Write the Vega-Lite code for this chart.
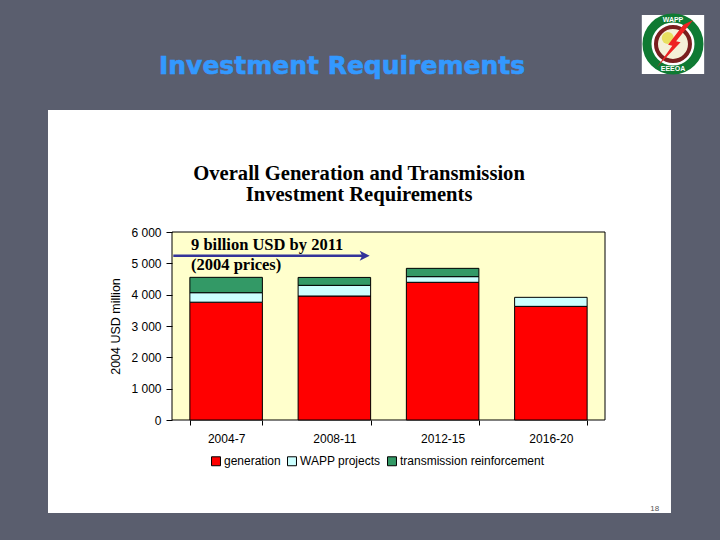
{
  "$schema": "https://vega.github.io/schema/vega-lite/v6.json",
  "description": "Slide with WAPP investment requirements per period, stacked bars.",
  "autosize": {"type": "none"},
  "width": 433,
  "height": 188,
  "padding": {"left": 172, "top": 232, "right": 115, "bottom": 120},
  "background": "#5a5e6e",
  "config": {"view": {"stroke": null}, "font": "Liberation Sans"},
  "data": {"values": [
    {"period": "2004-7", "series": "generation", "rank": 1, "value": 3760},
    {"period": "2004-7", "series": "WAPP projects", "rank": 2, "value": 303},
    {"period": "2004-7", "series": "transmission reinforcement", "rank": 3, "value": 490},
    {"period": "2008-11", "series": "generation", "rank": 1, "value": 3957},
    {"period": "2008-11", "series": "WAPP projects", "rank": 2, "value": 341},
    {"period": "2008-11", "series": "transmission reinforcement", "rank": 3, "value": 252},
    {"period": "2012-15", "series": "generation", "rank": 1, "value": 4395},
    {"period": "2012-15", "series": "WAPP projects", "rank": 2, "value": 180},
    {"period": "2012-15", "series": "transmission reinforcement", "rank": 3, "value": 265},
    {"period": "2016-20", "series": "generation", "rank": 1, "value": 3627},
    {"period": "2016-20", "series": "WAPP projects", "rank": 2, "value": 288}
  ]},
  "resolve": {"scale": {"x": "independent"}, "axis": {"x": "independent", "y": "independent"}},
  "layer": [
    {
      "data": {"values": [{"slide": 18}]},
      "encoding": {
        "x": {"datum": 0, "type": "quantitative", "scale": {"domain": [0, 1]}, "axis": null},
        "y": {"datum": 0, "type": "quantitative", "scale": {"domain": [0, 6000]}, "axis": null}
      },
      "layer": [
        {
          "mark": {"type": "rect", "fill": "#ffffff", "clip": false},
          "encoding": {
            "x": {"datum": -0.2864, "type": "quantitative", "axis": null}, "x2": {"datum": 1.1524},
            "y": {"datum": 9894, "type": "quantitative", "axis": null}, "y2": {"datum": -2968}
          }
        },
        {
          "mark": {"type": "rect", "fill": "#ffffcc", "stroke": "#000000", "strokeWidth": 1},
          "encoding": {
            "x": {"datum": 0, "type": "quantitative", "axis": null}, "x2": {"datum": 1},
            "y": {"datum": 0, "type": "quantitative", "axis": null}, "y2": {"datum": 6000}
          }
        },
        {
          "mark": {"type": "text", "text": "Investment Requirements", "align": "left", "font": "DejaVu Sans", "fontWeight": "bold", "fontSize": 25, "color": "#3399ff", "stroke": "#3399ff", "strokeWidth": 0.6, "baseline": "alphabetic"},
          "encoding": {"x": {"datum": -0.03, "type": "quantitative", "axis": null}, "y": {"datum": 11043, "type": "quantitative", "axis": null}}
        },
        {
          "mark": {"type": "text", "text": "Overall Generation and Transmission", "align": "center", "font": "Liberation Serif", "fontWeight": "bold", "fontSize": 20.6, "color": "#000000", "baseline": "alphabetic"},
          "encoding": {"x": {"datum": 0.432, "type": "quantitative", "axis": null}, "y": {"datum": 7660, "type": "quantitative", "axis": null}}
        },
        {
          "mark": {"type": "text", "text": "Investment Requirements", "align": "center", "font": "Liberation Serif", "fontWeight": "bold", "fontSize": 20.6, "color": "#000000", "baseline": "alphabetic"},
          "encoding": {"x": {"datum": 0.432, "type": "quantitative", "axis": null}, "y": {"datum": 6989, "type": "quantitative", "axis": null}}
        },
        {
          "mark": {"type": "text", "text": "9 billion USD by 2011", "align": "left", "font": "Liberation Serif", "fontWeight": "bold", "fontSize": 16.5, "color": "#000000", "baseline": "alphabetic"},
          "encoding": {"x": {"datum": 0.0439, "type": "quantitative", "axis": null}, "y": {"datum": 5426, "type": "quantitative", "axis": null}}
        },
        {
          "mark": {"type": "text", "text": "(2004 prices)", "align": "left", "font": "Liberation Serif", "fontWeight": "bold", "fontSize": 16.5, "color": "#000000", "baseline": "alphabetic"},
          "encoding": {"x": {"datum": 0.0439, "type": "quantitative", "axis": null}, "y": {"datum": 4787, "type": "quantitative", "axis": null}}
        },
        {
          "mark": {"type": "rule", "color": "#333399", "strokeWidth": 2.5},
          "encoding": {
            "x": {"datum": 0.003, "type": "quantitative", "axis": null}, "x2": {"datum": 0.445},
            "y": {"datum": 5245, "type": "quantitative", "axis": null}
          }
        },
        {
          "mark": {"type": "point", "shape": "M-1,-1 L1,0 L-1,1 L-0.5,0 Z", "filled": true, "color": "#333399", "size": 100, "opacity": 1},
          "encoding": {"x": {"datum": 0.445, "type": "quantitative", "axis": null}, "y": {"datum": 5245, "type": "quantitative", "axis": null}}
        },
        {
          "mark": {"type": "text", "text": "18", "align": "center", "fontSize": 8, "color": "#555555", "baseline": "alphabetic"},
          "encoding": {"x": {"datum": 1.115, "type": "quantitative", "axis": null}, "y": {"datum": -2904, "type": "quantitative", "axis": null}}
        },
        {
          "mark": {"type": "rect", "fill": "#ffffff", "clip": false},
          "encoding": {
            "x": {"datum": 1.085, "type": "quantitative", "axis": null}, "x2": {"datum": 1.229},
            "y": {"datum": 12926, "type": "quantitative", "axis": null}, "y2": {"datum": 11043}
          }
        },
        {
          "mark": {"type": "point", "shape": "circle", "size": 2704, "stroke": "#0f7a33", "strokeWidth": 9, "opacity": 1},
          "encoding": {"x": {"datum": 1.157, "type": "quantitative", "axis": null}, "y": {"datum": 12000, "type": "quantitative", "axis": null}}
        },
        {
          "mark": {"type": "point", "shape": "circle", "size": 1156, "stroke": "#7a1f1f", "strokeWidth": 4, "fill": "#f4f0d8", "opacity": 1},
          "encoding": {"x": {"datum": 1.157, "type": "quantitative", "axis": null}, "y": {"datum": 12000, "type": "quantitative", "axis": null}}
        },
        {
          "mark": {"type": "point", "shape": "circle", "size": 144, "filled": true, "color": "#e8e060", "opacity": 1},
          "encoding": {"x": {"datum": 1.145, "type": "quantitative", "axis": null}, "y": {"datum": 12191, "type": "quantitative", "axis": null}}
        },
        {
          "mark": {"type": "point", "shape": "M0.77,-1 L0.04,-0.1 L0.23,-0.05 L-0.77,1 L-0.12,0.1 L-0.3,0.05 L0.35,-0.8 Z", "filled": true, "color": "#ee2222", "size": 2209, "opacity": 1},
          "encoding": {"x": {"datum": 1.162, "type": "quantitative", "axis": null}, "y": {"datum": 12016, "type": "quantitative", "axis": null}}
        },
        {
          "mark": {"type": "text", "text": "WAPP", "align": "center", "fontWeight": "bold", "fontSize": 7, "color": "#ffffff", "baseline": "middle"},
          "encoding": {"x": {"datum": 1.157, "type": "quantitative", "axis": null}, "y": {"datum": 12766, "type": "quantitative", "axis": null}}
        },
        {
          "mark": {"type": "text", "text": "EEEOA", "align": "center", "fontWeight": "bold", "fontSize": 7, "color": "#ffffff", "baseline": "middle"},
          "encoding": {"x": {"datum": 1.157, "type": "quantitative", "axis": null}, "y": {"datum": 11202, "type": "quantitative", "axis": null}}
        }
      ]
    },
    {
      "mark": {"type": "bar", "stroke": "#000000", "strokeWidth": 1},
      "encoding": {
        "x": {
          "field": "period",
          "type": "nominal",
          "title": null,
          "scale": {"paddingInner": 0.33, "paddingOuter": 0.165},
          "axis": {"labelAngle": 0, "tickBand": "extent", "domain": false, "ticks": true, "tickColor": "#000000", "tickSize": 5, "labelFontSize": 12, "labelColor": "#000000", "labelPadding": 8, "zindex": 1}
        },
        "y": {
          "field": "value",
          "type": "quantitative",
          "aggregate": "sum",
          "stack": "zero",
          "title": "2004 USD million",
          "scale": {"domain": [0, 6000]},
          "axis": {
            "values": [0, 1000, 2000, 3000, 4000, 5000, 6000],
            "labelExpr": "replace(format(datum.value, ','), ',', ' ')",
            "grid": false,
            "domain": false,
            "tickColor": "#000000",
            "tickSize": 6,
            "labelFontSize": 12,
            "labelColor": "#000000",
            "labelPadding": 5,
            "titleFontSize": 12.5,
            "titleFontWeight": "normal",
            "titleColor": "#000000",
            "titlePadding": 8,
            "zindex": 1
          }
        },
        "order": {"field": "rank", "type": "ordinal"},
        "color": {
          "field": "series",
          "type": "nominal",
          "scale": {
            "domain": ["generation", "WAPP projects", "transmission reinforcement"],
            "range": ["#ff0000", "#ccffff", "#339966"]
          },
          "legend": {
            "title": null,
            "orient": "none",
            "legendX": 38,
            "legendY": 223,
            "direction": "horizontal",
            "columns": 3,
            "symbolType": "square",
            "symbolSize": 80,
            "symbolStrokeColor": "#000000",
            "symbolStrokeWidth": 1,
            "labelFontSize": 12,
            "labelColor": "#000000",
            "columnPadding": 4,
            "labelOffset": 2
          }
        }
      }
    }
  ]
}
